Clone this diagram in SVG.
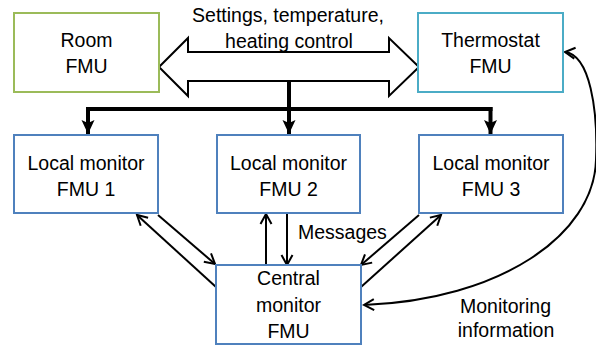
<svg xmlns="http://www.w3.org/2000/svg" width="596" height="345" viewBox="0 0 596 345">
<style>
text{font-family:"Liberation Sans",Arial,sans-serif;font-size:19.5px;fill:#000;text-anchor:middle}
.box{fill:#fff;stroke-width:2}
.blue{stroke:#4f81bd}
.thin{fill:none;stroke:#000;stroke-width:2}
.bus{fill:none;stroke:#000;stroke-width:4}
</style>
<defs>
<marker id="v" markerUnits="userSpaceOnUse" markerWidth="14" markerHeight="14" viewBox="0 0 14 14" refX="12" refY="7" orient="auto-start-reverse">
<path d="M2,1.5 L12,7 L2,12.5" fill="none" stroke="#000" stroke-width="2"/>
</marker>
<marker id="f" markerUnits="userSpaceOnUse" markerWidth="16" markerHeight="16" viewBox="0 0 16 16" refX="14" refY="8" orient="auto">
<path d="M0,1.5 L14,8 L0,14.5 L3,8 Z" fill="#000"/>
</marker>
</defs>
<g id="connectors">
<polygon points="159,67 188,38 188,52 389,52 389,38 419,67 389,96 389,81 188,81 188,96" fill="#fff" stroke="#000" stroke-width="2"/>
<path class="bus" d="M289,81 V109 M86,109 H492.5"/>
<path class="bus" d="M88,107 V134" marker-end="url(#f)"/>
<path class="bus" d="M289,109 V134" marker-end="url(#f)"/>
<path class="bus" d="M490.5,107 V134" marker-end="url(#f)"/>
<path class="thin" d="M158,215 L215,264" marker-end="url(#v)"/>
<path class="thin" d="M216,287 L137,215" marker-end="url(#v)"/>
<path class="thin" d="M419,215 L361,265" marker-end="url(#v)"/>
<path class="thin" d="M361,287 L441,215" marker-end="url(#v)"/>
<path class="thin" d="M266,265 V214" marker-end="url(#v)"/>
<path class="thin" d="M287,213 V265" marker-end="url(#v)"/>
<path class="thin" d="M364,305 C500,300 594,235 596,160 C598,110 590,55 565,52" marker-start="url(#v)" marker-end="url(#v)"/>
</g>
<g id="room">
<rect class="box" x="14" y="13" width="145" height="79" stroke="#9bbb59"/>
<text x="86.5" y="46.5">Room</text>
<text x="86.5" y="73">FMU</text>
</g>
<g id="thermostat">
<rect class="box" x="418" y="13" width="145" height="79" stroke="#4bacc6"/>
<text x="490.5" y="46.5">Thermostat</text>
<text x="490.5" y="73">FMU</text>
</g>
<g id="label-settings">
<text x="288" y="21.5">Settings, temperature,</text>
<text x="289" y="47.5">heating control</text>
</g>
<g id="local1">
<rect class="box blue" x="14" y="135" width="144" height="78"/>
<text x="86" y="170">Local monitor</text>
<text x="86" y="195.5">FMU 1</text>
</g>
<g id="local2">
<rect class="box blue" x="217" y="135" width="143" height="78"/>
<text x="288.5" y="170">Local monitor</text>
<text x="288.5" y="195.5">FMU 2</text>
</g>
<g id="local3">
<rect class="box blue" x="419" y="135" width="144" height="78"/>
<text x="491" y="170">Local monitor</text>
<text x="491" y="195.5">FMU 3</text>
</g>
<g id="central">
<rect class="box blue" x="216" y="265" width="145" height="79"/>
<text x="288.5" y="285">Central</text>
<text x="288.5" y="311.5">monitor</text>
<text x="288.5" y="337.5">FMU</text>
</g>
<g id="label-messages">
<text x="298" y="239" style="text-anchor:start">Messages</text>
</g>
<g id="label-monitoring">
<text x="505.5" y="313">Monitoring</text>
<text x="506" y="337">information</text>
</g>
</svg>
